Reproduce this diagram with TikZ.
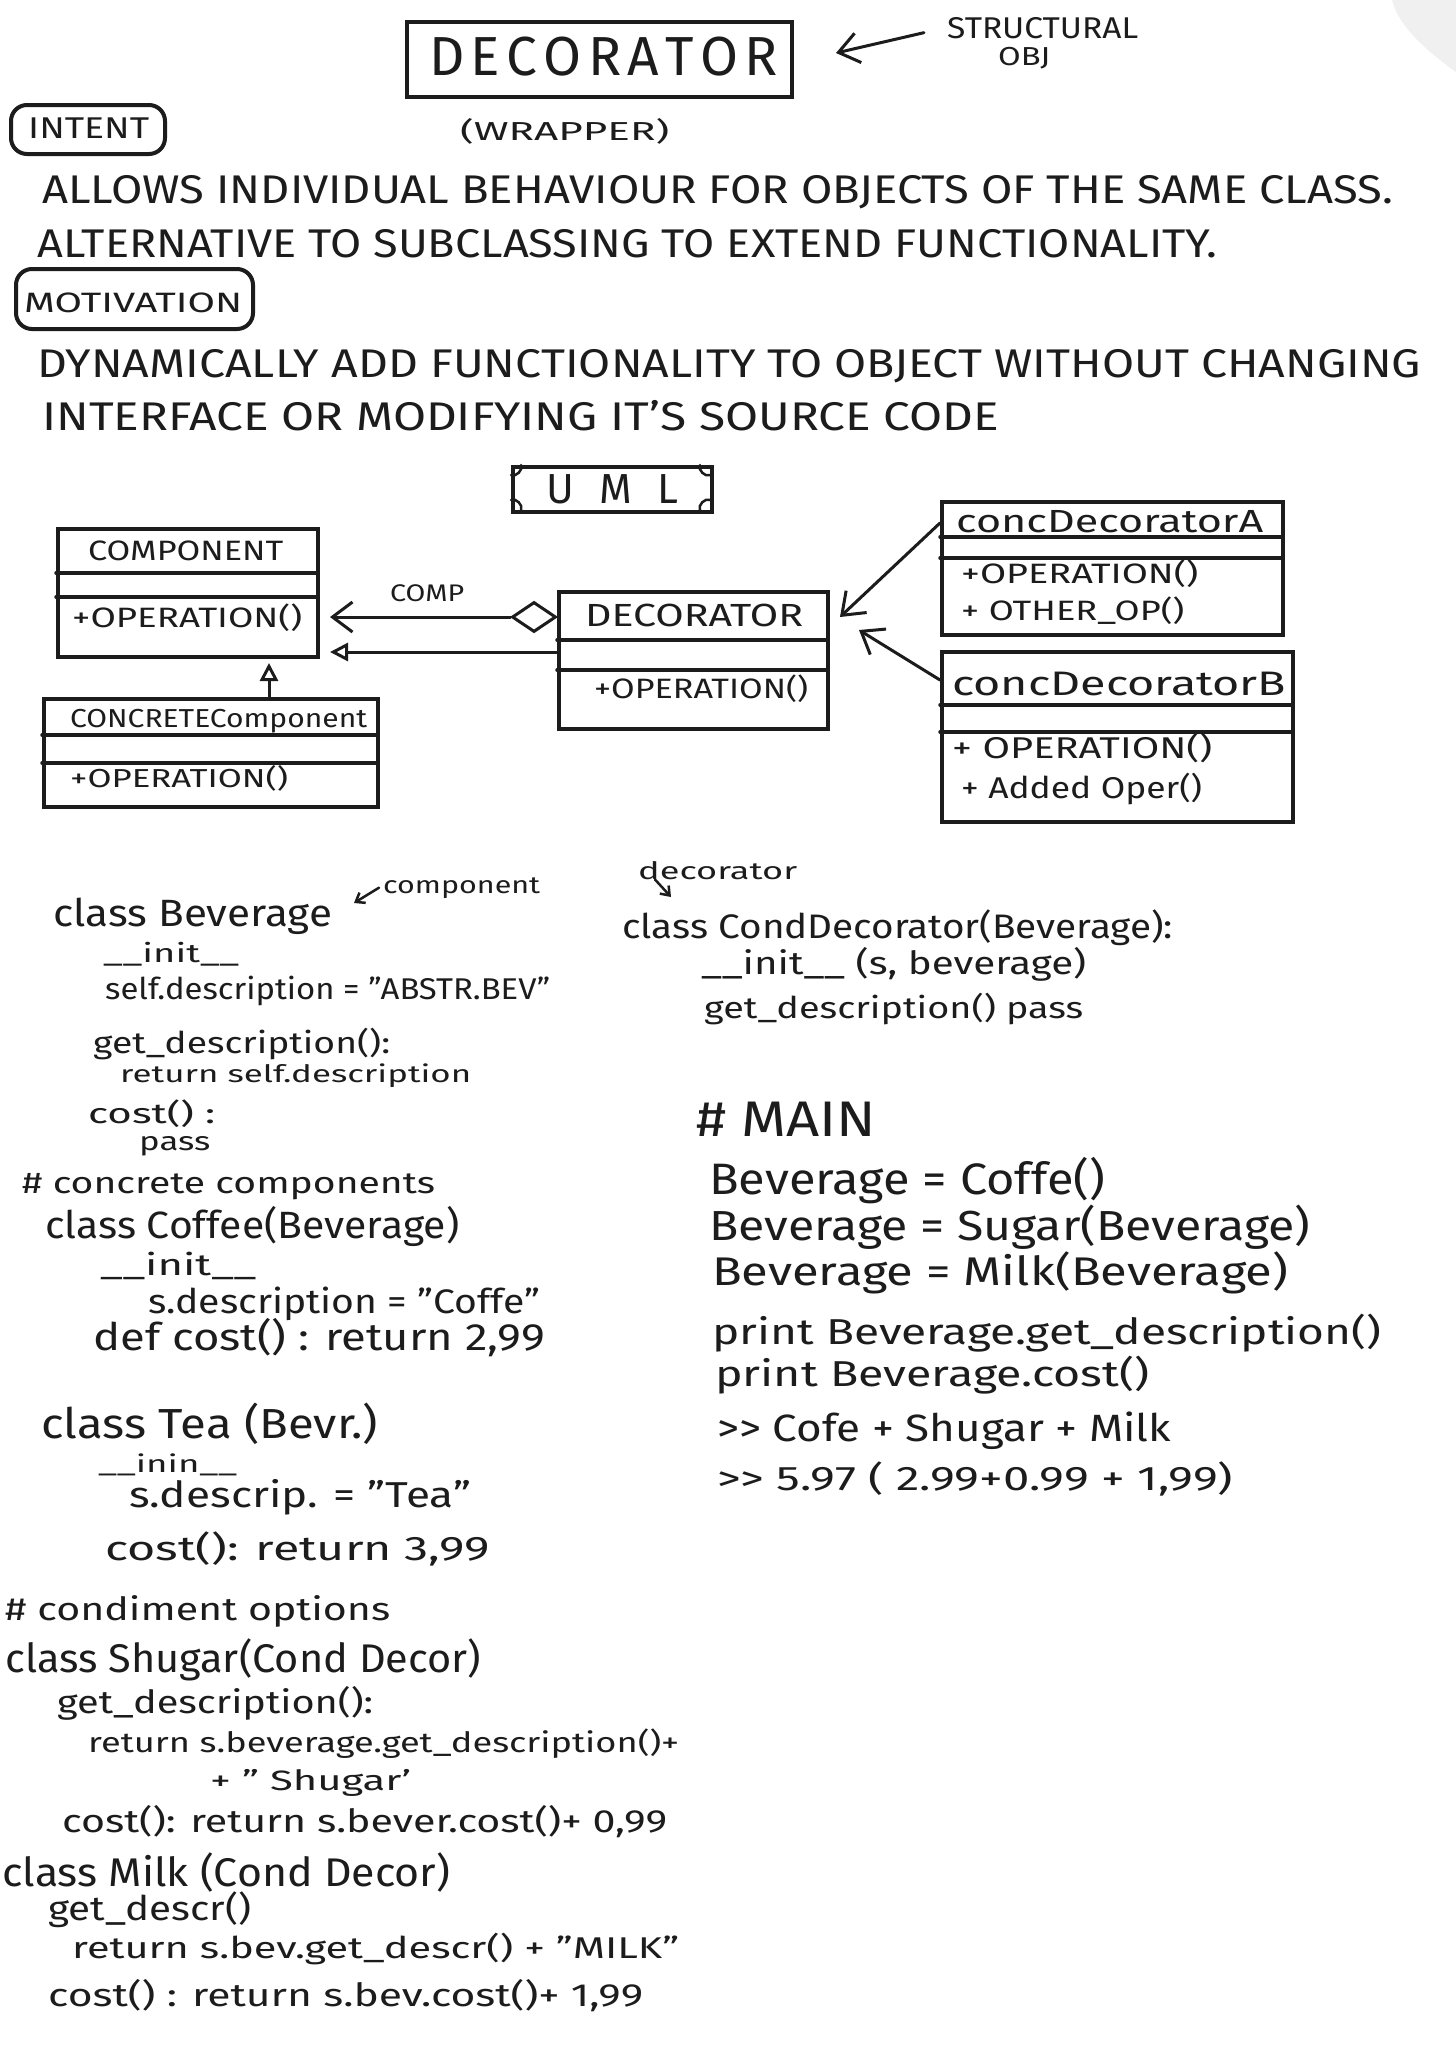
\documentclass[tikz,border=0pt]{standalone}
\usepackage{fontspec}
\setmainfont{Fira Sans}
\usepackage{graphicx}
\usetikzlibrary{arrows.meta,shapes.geometric}
\newcommand\hfs[1]{\fontsize{#1}{#1}\selectfont}
\newcommand\fitw[2]{\resizebox{#1}{\height}{#2}}
\definecolor{ink}{HTML}{1C1C1C}
\tikzset{
  boxline/.style={draw=ink, line width=4pt},
  umlbox/.style={boxline, anchor=north west, inner sep=0pt},
  sepline/.style={draw=ink, line width=3.5pt, line cap=round},
  conn/.style={draw=ink, line width=3pt, line cap=round},
  barb/.style={conn, -{Straight Barb[length=20pt,width=30pt,line width=3pt]}},
  smallbarb/.style={draw=ink, line width=2.5pt, line cap=round, -{Straight Barb[length=8pt,width=12pt,line width=2.5pt]}},
  tri/.style={conn, -{Triangle[open,length=18pt,width=18pt,line width=3pt,fill=white]}},
  txt/.style={anchor=base west, inner sep=0pt, text=ink},
}
\begin{document}
\begin{tikzpicture}[x=1pt,y=-1pt]
\fill[white] (0,0) rectangle (1456,2048);
\useasboundingbox (0,0) rectangle (1456,2048);
\fill[gray!12] (1392,0) .. controls (1398,25) and (1425,50) .. (1456,72) -- (1456,0) -- cycle;

% ---------- header ----------
\node[umlbox, minimum width=385pt, minimum height=75pt] (titlebox) at (405,20) {};
\node[txt, font=\hfs{55}] (ttltxt) at (429,75) {\makebox[349pt][s]{D\hfill E\hfill C\hfill O\hfill R\hfill A\hfill T\hfill O\hfill R}};
\node[txt, font=\hfs{30}] (struct) at (947,38) {\fitw{191pt}{STRUCTURAL}};
\node[txt, font=\hfs{26}] (obj) at (998,65) {\fitw{52pt}{OBJ}};
\coordinate (stip) at (836,53);
\draw[barb] ([xshift=-23pt,yshift=-5pt]struct.west) -- (stip);
\node[txt, font=\hfs{26}] (wrap) at (460,140) {\fitw{209pt}{(WRAPPER)}};

\node[boxline, rounded corners=16pt, anchor=north west, inner sep=0pt, minimum width=154pt, minimum height=49pt] (intentbox) at (9,103) {};
\node[txt, font=\hfs{30}] (intent) at (28,138) {\fitw{121pt}{INTENT}};
\node[txt, font=\hfs{40}] (l1) at (42,203) {\fitw{1351pt}{ALLOWS INDIVIDUAL BEHAVIOUR FOR OBJECTS OF THE SAME CLASS.}};
\node[txt, font=\hfs{40}] (l2) at (37,257) {\fitw{1180pt}{ALTERNATIVE TO SUBCLASSING TO EXTEND FUNCTIONALITY.}};
\node[boxline, rounded corners=16pt, anchor=north west, inner sep=0pt, minimum width=237pt, minimum height=60pt] (motivbox) at (14,267) {};
\node[txt, font=\hfs{28}] (motiv) at (24,312) {\fitw{218pt}{MOTIVATION}};
\node[txt, font=\hfs{40}] (l3) at (37,377) {\fitw{1384pt}{DYNAMICALLY ADD FUNCTIONALITY TO OBJECT WITHOUT CHANGING}};
\node[txt, font=\hfs{40}] (l4) at (42,430) {\fitw{957pt}{INTERFACE OR MODIFYING IT'S SOURCE CODE}};

% ---------- UML ----------
\node[umlbox, minimum width=199pt, minimum height=45pt] (umlbox) at (511,465) {};
\node[txt, font=\hfs{42}] (umltxt) at (546,503) {\makebox[132pt][s]{U\hfill M\hfill L}};
\draw[sepline, line width=2.5pt] (521,465) to[bend left=70] (511,475);
\draw[sepline, line width=2.5pt] (700,465) to[bend right=70] (710,475);
\draw[sepline, line width=2.5pt] (521,510) to[bend right=70] (511,500);
\draw[sepline, line width=2.5pt] (700,510) to[bend left=70] (710,500);

% Component
\node[umlbox, minimum width=260pt, minimum height=128pt] (comp) at (56,527) {};
\draw[sepline] (56,573) -- (316,573);
\draw[sepline] (56,597) -- (316,597);
\node[txt, font=\hfs{28}] (compname) at (88,560) {\fitw{195pt}{COMPONENT}};
\node[txt, font=\hfs{28}] (compop) at (72,627) {\fitw{230pt}{+OPERATION()}};

% ConcreteComponent
\node[umlbox, minimum width=334pt, minimum height=108pt] (conc) at (42,697) {};
\draw[sepline] (42,735) -- (376,735);
\draw[sepline] (42,763) -- (376,763);
\node[txt, font=\hfs{26}] (concname) at (70,727) {\fitw{297pt}{CONCRETEComponent}};
\node[txt, font=\hfs{26}] (concop) at (70,787) {\fitw{218pt}{+OPERATION()}};

% Decorator
\node[umlbox, minimum width=269pt, minimum height=137pt] (deco) at (557,590) {};
\draw[sepline] (557,640) -- (826,640);
\draw[sepline] (557,670) -- (826,670);
\node[txt, font=\hfs{32}] (deconame) at (585,626) {\fitw{218pt}{DECORATOR}};
\node[txt, font=\hfs{28}] (decoop) at (594,698) {\fitw{214pt}{+OPERATION()}};

% concDecoratorA
\node[umlbox, minimum width=341pt, minimum height=133pt] (cdA) at (940,500) {};
\draw[sepline] (940,537) -- (1281,537);
\draw[sepline] (940,558) -- (1281,558);
\node[txt, font=\hfs{32}] (cdAname) at (956,532) {\fitw{307pt}{concDecoratorA}};
\node[txt, font=\hfs{28}] (cdAop1) at (961,583) {\fitw{237pt}{+OPERATION()}};
\node[txt, font=\hfs{28}] (cdAop2) at (961,620) {\fitw{223pt}{+ OTHER\_OP()}};

% concDecoratorB
\node[umlbox, minimum width=351pt, minimum height=170pt] (cdB) at (940,650) {};
\draw[sepline] (940,705) -- (1291,705);
\draw[sepline] (940,732) -- (1291,732);
\node[txt, font=\hfs{34}] (cdBname) at (952,695) {\fitw{334pt}{concDecoratorB}};
\node[txt, font=\hfs{30}] (cdBop1) at (952,758) {\fitw{260pt}{+ OPERATION()}};
\node[txt, font=\hfs{30}] (cdBop2) at (961,798) {\fitw{241pt}{+ Added Oper()}};

% connectors
\node[draw=ink, line width=3pt, shape=diamond, minimum width=44pt, minimum height=30pt, inner sep=0pt, fill=white] (dia) at (534,617) {};
\coordinate (aggtip) at (330,617);
\draw[barb] (dia.west) -- (aggtip);
\node[txt, font=\hfs{24}] (complbl) at (390,601) {\fitw{74pt}{COMP}};
\coordinate (inhtip) at (330,652);
\draw[tri] (deco.west |- inhtip) -- (inhtip);
\coordinate (cctip) at (269,663);
\draw[tri] (conc.north -| cctip) -- (cctip);
\coordinate (atail) at (940,523);
\coordinate (atip) at (840,617);
\draw[barb] (cdA.west |- atail) -- (atip);
\coordinate (btail) at (933,680);
\coordinate (btip) at (859,630);
\draw[barb] (cdB.west |- btail) -- (btip);

% ---------- code, left ----------
\node[txt, font=\hfs{24}] (annc) at (383,893) {\fitw{157pt}{component}};
\coordinate (anct) at (354,903);
\draw[smallbarb] ([xshift=-4pt]annc.west) -- (anct);
\node[txt, font=\hfs{38}] (cbev) at (53,926) {\fitw{279pt}{class Beverage}};
\node[txt, font=\hfs{26}] (binit) at (103,962) {\fitw{136pt}{\_\_init\_\_}};
\node[txt, font=\hfs{30}] (bself) at (105,999) {\fitw{445pt}{self.description = "ABSTR.BEV"}};
\node[txt, font=\hfs{30}] (bget) at (93,1053) {\fitw{297pt}{get\_description():}};
\node[txt, font=\hfs{24}] (bret) at (120,1082) {\fitw{351pt}{return self.description}};
\node[txt, font=\hfs{28}] (bcost) at (88,1123) {\fitw{127pt}{cost() :}};
\node[txt, font=\hfs{26}] (bpass) at (139,1150) {\fitw{71pt}{pass}};
\node[txt, font=\hfs{30}] (hcc) at (22,1193) {\fitw{413pt}{\# concrete components}};
\node[txt, font=\hfs{38}] (ccof) at (45,1238) {\fitw{414pt}{class Coffee(Beverage)}};
\node[txt, font=\hfs{30}] (cinit) at (100,1275) {\fitw{156pt}{\_\_init\_\_}};
\node[txt, font=\hfs{34}] (cdesc) at (148,1313) {\fitw{392pt}{s.description = "Coffe"}};
\node[txt, font=\hfs{38}] (ccost) at (93,1350) {\fitw{452pt}{def cost() : return 2,99}};
\node[txt, font=\hfs{42}] (ctea) at (41,1438) {\fitw{337pt}{class Tea (Bevr.)}};
\node[txt, font=\hfs{24}] (tinit) at (98,1472) {\fitw{139pt}{\_\_inin\_\_}};
\node[txt, font=\hfs{36}] (tdesc) at (129,1507) {\fitw{342pt}{s.descrip. = "Tea"}};
\node[txt, font=\hfs{34}] (tcost) at (105,1560) {\fitw{385pt}{cost(): return 3,99}};
\node[txt, font=\hfs{32}] (hco) at (5,1620) {\fitw{385pt}{\# condiment options}};
\node[txt, font=\hfs{40}] (csug) at (5,1672) {\fitw{476pt}{class Shugar(Cond Decor)}};
\node[txt, font=\hfs{32}] (sget) at (57,1713) {\fitw{316pt}{get\_description():}};
\node[txt, font=\hfs{28}] (sret) at (88,1752) {\fitw{591pt}{return s.beverage.get\_description()+}};
\node[txt, font=\hfs{28}] (sret2) at (210,1790) {\fitw{201pt}{+ " Shugar'}};
\node[txt, font=\hfs{32}] (scost) at (62,1832) {\fitw{605pt}{cost(): return s.bever.cost()+ 0,99}};
\node[txt, font=\hfs{40}] (cmilk) at (2,1886) {\fitw{448pt}{class Milk (Cond Decor)}};
\node[txt, font=\hfs{34}] (mget) at (48,1920) {\fitw{203pt}{get\_descr()}};
\node[txt, font=\hfs{30}] (mret) at (72,1958) {\fitw{607pt}{return s.bev.get\_descr() + "MILK"}};
\node[txt, font=\hfs{32}] (mcost) at (48,2006) {\fitw{595pt}{cost() : return s.bev.cost()+ 1,99}};

% ---------- code, right ----------
\node[txt, font=\hfs{24}] (decann) at (638,879) {\fitw{159pt}{decorator}};
\coordinate (dect) at (671,897);
\draw[smallbarb] ([xshift=17pt]decann.south west) -- (dect);
\node[txt, font=\hfs{34}] (ccd) at (622,938) {\fitw{551pt}{class CondDecorator(Beverage):}};
\node[txt, font=\hfs{32}] (dinit) at (701,974) {\fitw{385pt}{\_\_init\_\_ (s, beverage)}};
\node[txt, font=\hfs{30}] (dget) at (704,1018) {\fitw{379pt}{get\_description() pass}};
\node[txt, font=\hfs{50}] (hmain) at (696,1136) {\fitw{180pt}{\# MAIN}};
\node[txt, font=\hfs{44}] (m1) at (709,1194) {\fitw{396pt}{Beverage = Coffe()}};
\node[txt, font=\hfs{42}] (m2) at (709,1240) {\fitw{601pt}{Beverage = Sugar(Beverage)}};
\node[txt, font=\hfs{40}] (m3) at (712,1285) {\fitw{576pt}{Beverage = Milk(Beverage)}};
\node[txt, font=\hfs{36}] (m4) at (712,1344) {\fitw{669pt}{print Beverage.get\_description()}};
\node[txt, font=\hfs{36}] (m5) at (715,1386) {\fitw{434pt}{print Beverage.cost()}};
\node[txt, font=\hfs{38}] (m6) at (717,1441) {\fitw{454pt}{>{}> Cofe + Shugar + Milk}};
\node[txt, font=\hfs{34}] (m7) at (717,1490) {\fitw{516pt}{>{}> 5.97 ( 2.99+0.99 + 1,99)}};
\end{tikzpicture}
\end{document}
